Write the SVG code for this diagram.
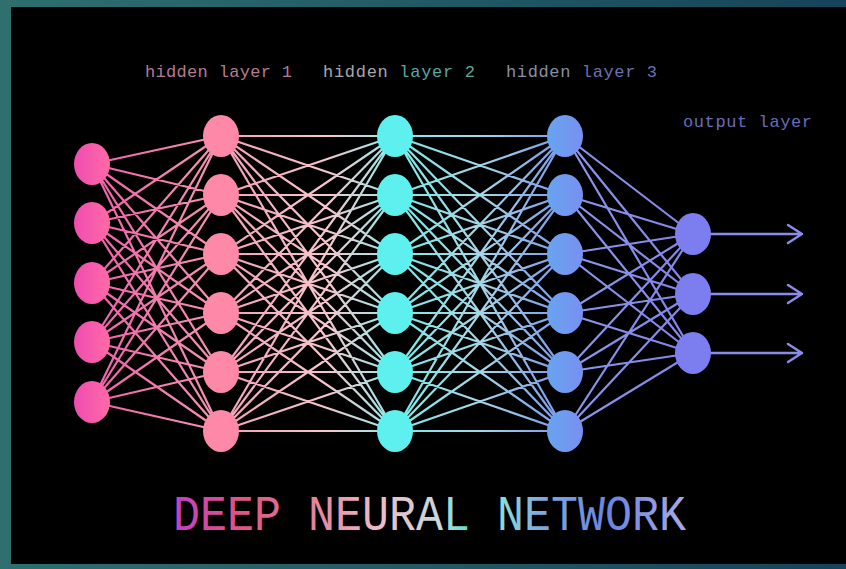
<svg xmlns="http://www.w3.org/2000/svg" width="846" height="569" viewBox="0 0 846 569">
  <defs>
    <linearGradient id="frame" x1="0" y1="0" x2="846" y2="0" gradientUnits="userSpaceOnUse">
      <stop offset="0" stop-color="#2f6f6e"/>
      <stop offset="1" stop-color="#15445a"/>
    </linearGradient>
    <linearGradient id="g0" x1="92" y1="0" x2="221" y2="0" gradientUnits="userSpaceOnUse">
      <stop offset="0" stop-color="#f060aa"/>
      <stop offset="1" stop-color="#f498b4"/>
    </linearGradient>
    <linearGradient id="g1" x1="221" y1="0" x2="395" y2="0" gradientUnits="userSpaceOnUse">
      <stop offset="0" stop-color="#f4a0b6"/>
      <stop offset="0.6" stop-color="#f6c6cc"/>
      <stop offset="1" stop-color="#90eaea"/>
    </linearGradient>
    <linearGradient id="g2" x1="395" y1="0" x2="565" y2="0" gradientUnits="userSpaceOnUse">
      <stop offset="0" stop-color="#78ecea"/>
      <stop offset="0.5" stop-color="#a6d6e6"/>
      <stop offset="1" stop-color="#7898ec"/>
    </linearGradient>
    <linearGradient id="g3" x1="565" y1="0" x2="693" y2="0" gradientUnits="userSpaceOnUse">
      <stop offset="0" stop-color="#8a98ea"/>
      <stop offset="1" stop-color="#8484ea"/>
    </linearGradient>
    <linearGradient id="n0" x1="0" y1="0" x2="1" y2="0">
      <stop offset="0" stop-color="#f04cb0"/>
      <stop offset="1" stop-color="#ff6aa8"/>
    </linearGradient>
    <linearGradient id="n3" x1="0" y1="0" x2="1" y2="0">
      <stop offset="0" stop-color="#68a4f0"/>
      <stop offset="1" stop-color="#7890f0"/>
    </linearGradient>
    <linearGradient id="title" x1="173" y1="0" x2="686" y2="0" gradientUnits="userSpaceOnUse">
      <stop offset="0" stop-color="#c040c8"/>
      <stop offset="0.12" stop-color="#e05088"/>
      <stop offset="0.25" stop-color="#e07890"/>
      <stop offset="0.4" stop-color="#ecbcc8"/>
      <stop offset="0.52" stop-color="#c8d8d8"/>
      <stop offset="0.58" stop-color="#50e0d0"/>
      <stop offset="0.64" stop-color="#88dcd8"/>
      <stop offset="0.72" stop-color="#80a8e0"/>
      <stop offset="0.85" stop-color="#6a84e0"/>
      <stop offset="1" stop-color="#a8aae4"/>
    </linearGradient>
  </defs>
  <style>
    .wire { fill: none; stroke-width: 2.2; stroke-linecap: round; }
    .arrow { fill: none; stroke: #8a8cea; stroke-width: 2.4; stroke-linecap: round; stroke-linejoin: round; }
    .in { fill: url(#n0); }
    .h1 { fill: #fd88a8; }
    .h2 { fill: #5ef0ee; }
    .h3 { fill: url(#n3); }
    .out { fill: #7c7ef0; }
    .lbl { font-family: "Liberation Mono", "DejaVu Sans Mono", monospace; font-size: 17px; }
    .title { font-family: "Liberation Mono", "DejaVu Sans Mono", monospace; font-size: 50px; fill: url(#title); }
  </style>

  <!-- frame and backdrop -->
  <rect x="0" y="0" width="846" height="569" fill="url(#frame)"/>
  <rect x="11" y="7" width="835" height="557" fill="#000"/>

  <!-- connectors -->
  <g id="connectors">
    <path class="wire" stroke="url(#g0)" d="M92 164L221 136M92 164L221 195M92 164L221 254M92 164L221 313M92 164L221 372M92 164L221 431M92 223L221 136M92 223L221 195M92 223L221 254M92 223L221 313M92 223L221 372M92 223L221 431M92 283L221 136M92 283L221 195M92 283L221 254M92 283L221 313M92 283L221 372M92 283L221 431M92 342L221 136M92 342L221 195M92 342L221 254M92 342L221 313M92 342L221 372M92 342L221 431M92 402L221 136M92 402L221 195M92 402L221 254M92 402L221 313M92 402L221 372M92 402L221 431"/>
    <path class="wire" stroke="url(#g1)" d="M221 136L395 136M221 136L395 195M221 136L395 254M221 136L395 313M221 136L395 372M221 136L395 431M221 195L395 136M221 195L395 195M221 195L395 254M221 195L395 313M221 195L395 372M221 195L395 431M221 254L395 136M221 254L395 195M221 254L395 254M221 254L395 313M221 254L395 372M221 254L395 431M221 313L395 136M221 313L395 195M221 313L395 254M221 313L395 313M221 313L395 372M221 313L395 431M221 372L395 136M221 372L395 195M221 372L395 254M221 372L395 313M221 372L395 372M221 372L395 431M221 431L395 136M221 431L395 195M221 431L395 254M221 431L395 313M221 431L395 372M221 431L395 431"/>
    <path class="wire" stroke="url(#g2)" d="M395 136L565 136M395 136L565 195M395 136L565 254M395 136L565 313M395 136L565 372M395 136L565 431M395 195L565 136M395 195L565 195M395 195L565 254M395 195L565 313M395 195L565 372M395 195L565 431M395 254L565 136M395 254L565 195M395 254L565 254M395 254L565 313M395 254L565 372M395 254L565 431M395 313L565 136M395 313L565 195M395 313L565 254M395 313L565 313M395 313L565 372M395 313L565 431M395 372L565 136M395 372L565 195M395 372L565 254M395 372L565 313M395 372L565 372M395 372L565 431M395 431L565 136M395 431L565 195M395 431L565 254M395 431L565 313M395 431L565 372M395 431L565 431"/>
    <path class="wire" stroke="url(#g3)" d="M565 136L693 234M565 136L693 294M565 136L693 353M565 195L693 234M565 195L693 294M565 195L693 353M565 254L693 234M565 254L693 294M565 254L693 353M565 313L693 234M565 313L693 294M565 313L693 353M565 372L693 234M565 372L693 294M565 372L693 353M565 431L693 234M565 431L693 294M565 431L693 353"/>
    <path class="arrow" d="M693 234H802M788 225L802 234L788 243M693 294H802M788 285L802 294L788 303M693 353H802M788 344L802 353L788 362"/>
  </g>

  <!-- input layer -->
  <g id="input-1"><ellipse class="in" cx="92" cy="164" rx="18" ry="21"/></g>
  <g id="input-2"><ellipse class="in" cx="92" cy="223" rx="18" ry="21"/></g>
  <g id="input-3"><ellipse class="in" cx="92" cy="283" rx="18" ry="21"/></g>
  <g id="input-4"><ellipse class="in" cx="92" cy="342" rx="18" ry="21"/></g>
  <g id="input-5"><ellipse class="in" cx="92" cy="402" rx="18" ry="21"/></g>

  <!-- hidden layer 1 -->
  <g id="h1-1"><ellipse class="h1" cx="221" cy="136" rx="18" ry="21"/></g>
  <g id="h1-2"><ellipse class="h1" cx="221" cy="195" rx="18" ry="21"/></g>
  <g id="h1-3"><ellipse class="h1" cx="221" cy="254" rx="18" ry="21"/></g>
  <g id="h1-4"><ellipse class="h1" cx="221" cy="313" rx="18" ry="21"/></g>
  <g id="h1-5"><ellipse class="h1" cx="221" cy="372" rx="18" ry="21"/></g>
  <g id="h1-6"><ellipse class="h1" cx="221" cy="431" rx="18" ry="21"/></g>

  <!-- hidden layer 2 -->
  <g id="h2-1"><ellipse class="h2" cx="395" cy="136" rx="18" ry="21"/></g>
  <g id="h2-2"><ellipse class="h2" cx="395" cy="195" rx="18" ry="21"/></g>
  <g id="h2-3"><ellipse class="h2" cx="395" cy="254" rx="18" ry="21"/></g>
  <g id="h2-4"><ellipse class="h2" cx="395" cy="313" rx="18" ry="21"/></g>
  <g id="h2-5"><ellipse class="h2" cx="395" cy="372" rx="18" ry="21"/></g>
  <g id="h2-6"><ellipse class="h2" cx="395" cy="431" rx="18" ry="21"/></g>

  <!-- hidden layer 3 -->
  <g id="h3-1"><ellipse class="h3" cx="565" cy="136" rx="18" ry="21"/></g>
  <g id="h3-2"><ellipse class="h3" cx="565" cy="195" rx="18" ry="21"/></g>
  <g id="h3-3"><ellipse class="h3" cx="565" cy="254" rx="18" ry="21"/></g>
  <g id="h3-4"><ellipse class="h3" cx="565" cy="313" rx="18" ry="21"/></g>
  <g id="h3-5"><ellipse class="h3" cx="565" cy="372" rx="18" ry="21"/></g>
  <g id="h3-6"><ellipse class="h3" cx="565" cy="431" rx="18" ry="21"/></g>

  <!-- output layer -->
  <g id="out-1"><ellipse class="out" cx="693" cy="234" rx="18" ry="21"/></g>
  <g id="out-2"><ellipse class="out" cx="693" cy="294" rx="18" ry="21"/></g>
  <g id="out-3"><ellipse class="out" cx="693" cy="353" rx="18" ry="21"/></g>

  <!-- labels -->
  <g id="labels">
    <text class="lbl" x="145" y="77" textLength="147" fill="#b67c8e">hidden layer 1</text>
    <text class="lbl" x="323" y="77" textLength="152"><tspan fill="#a8a8aa">hidden </tspan><tspan fill="#5aa8a2">layer 2</tspan></text>
    <text class="lbl" x="506" y="77" textLength="151"><tspan fill="#8890a4">hidden </tspan><tspan fill="#6a72b4">layer 3</tspan></text>
    <text class="lbl" x="683" y="127" textLength="129" fill="#6a6cb8">output layer</text>
    <text class="title" x="173" y="530" textLength="513" lengthAdjust="spacingAndGlyphs">DEEP NEURAL NETWORK</text>
  </g>
</svg>
